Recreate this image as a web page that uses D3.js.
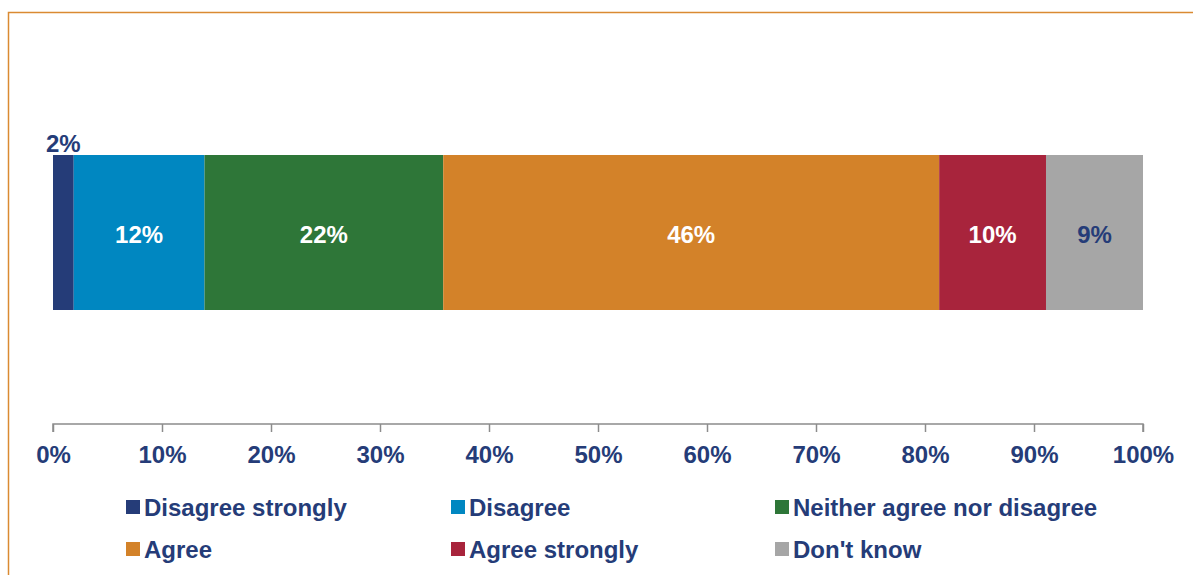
<!DOCTYPE html>
<html>
<head>
<meta charset="utf-8">
<script src="https://cdn.jsdelivr.net/npm/d3@7"></script>
<style>
	body { margin: 0; background: #fff; }
	svg { display: block; font-family: "Liberation Sans", Arial, sans-serif; font-weight: bold; }
</style>
</head>
<body>
<div id="chart"></div>
<script>
'use strict';

// answer categories, in stack order
var categories = ["Disagree strongly", "Disagree", "Neither agree nor disagree", "Agree", "Agree strongly", "Don't know"];
// share of respondents (%)
var values = [1.9, 12.0, 21.9, 45.5, 9.8, 8.9];
// printed labels
var labels = ["2%", "12%", "22%", "46%", "10%", "9%"];
var colours = ["#253C78", "#0087C1", "#2E7638", "#D38229", "#A8243C", "#A6A6A6"];
var ticks = [0, 10, 20, 30, 40, 50, 60, 70, 80, 90, 100];

var navy = "#253C78";
var fontSize = 24;
var width = 1193, height = 575;

var svg = d3.select("#chart").append("svg")
	.attr("width", width)
	.attr("height", height);

// orange frame, runs off the right and bottom edges
svg.append("rect")
	.attr("x", 8.5)
	.attr("y", 12.5)
	.attr("width", 1200)
	.attr("height", 600)
	.attr("fill", "none")
	.attr("stroke", "#DA8A32")
	.attr("stroke-width", 1.5);

var x = d3.scaleLinear().domain([0, 100]).range([53, 1143]);
var barTop = 155, barBottom = 310;

// running start of each segment
var starts = [];
var acc = 0;
values.forEach(function (v) {
	starts.push(acc);
	acc += v;
});

var seg = svg.selectAll(".segment")
	.data(values)
	.enter()
	.append("g")
	.attr("class", "segment");

seg.append("rect")
	.attr("x", function (d, i) { return x(starts[i]); })
	.attr("y", barTop)
	.attr("width", function (d, i) { return x(starts[i] + d) - x(starts[i]); })
	.attr("height", barBottom - barTop)
	.attr("fill", function (d, i) { return colours[i]; });

seg.append("text")
	.attr("x", function (d, i) { return x(starts[i] + d / 2); })
	.attr("y", function (d, i) { return i === 0 ? 152 : (barTop + barBottom) / 2 + 2; })
	.attr("dy", function (d, i) { return i === 0 ? 0 : "0.36em"; })
	.attr("text-anchor", "middle")
	.attr("font-size", fontSize)
	.attr("fill", function (d, i) { return (i === 0 || i === 5) ? navy : "#fff"; })
	.text(function (d, i) { return labels[i]; });

// axis
var axis = svg.append("g")
	.attr("transform", "translate(0,424)")
	.call(d3.axisBottom(x)
		.tickValues(ticks)
		.tickSize(8)
		.tickPadding(14)
		.tickFormat(function (d) { return d + "%"; }));

axis.select(".domain").attr("stroke", "#8C8C8C").attr("stroke-width", 1.5)
	.attr("d", "M" + x(0) + ",8V0H" + x(100) + "V8");
axis.selectAll(".tick line").attr("stroke", "#8C8C8C").attr("stroke-width", 1.5);
axis.selectAll(".tick text")
	.attr("font-size", fontSize)
	.attr("font-family", "Liberation Sans, Arial, sans-serif")
	.attr("font-weight", "bold")
	.attr("fill", navy);

// legend, 3 columns x 2 rows
var legendCols = [126, 451, 775];
var legendRows = [507, 549];

var item = svg.selectAll(".legend-item")
	.data(categories)
	.enter()
	.append("g")
	.attr("class", "legend-item")
	.attr("transform", function (d, i) {
		return "translate(" + legendCols[i % 3] + "," + legendRows[Math.floor(i / 3)] + ")";
	});

item.append("rect")
	.attr("x", 0)
	.attr("y", -7)
	.attr("width", 14)
	.attr("height", 14)
	.attr("fill", function (d, i) { return colours[i]; });

item.append("text")
	.attr("x", 18)
	.attr("dy", "0.36em")
	.attr("font-size", fontSize)
	.attr("fill", navy)
	.text(function (d) { return d; });
</script>
</body>
</html>
